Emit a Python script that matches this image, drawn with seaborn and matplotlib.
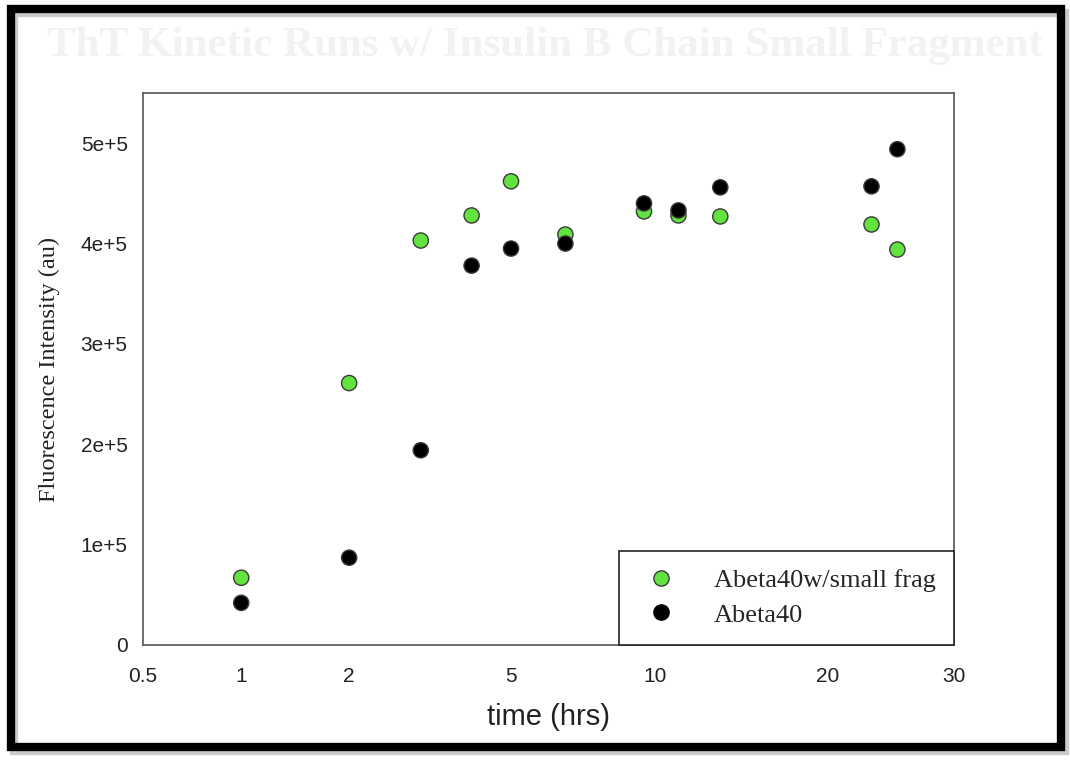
import numpy as np
import pandas as pd
import seaborn as sns
import matplotlib.pyplot as plt
from matplotlib.patches import Rectangle
from matplotlib.lines import Line2D
from matplotlib.ticker import FixedLocator, FuncFormatter

# data
time_hrs = [1, 2, 3, 4, 5, 6.5, 9.5, 11, 13, 23, 25]
small_frag = [0.67e5, 2.61e5, 4.03e5, 4.28e5, 4.62e5, 4.09e5, 4.32e5, 4.28e5, 4.27e5, 4.19e5, 3.94e5]
abeta40 = [0.42e5, 0.87e5, 1.94e5, 3.78e5, 3.95e5, 4.0e5, 4.40e5, 4.33e5, 4.56e5, 4.57e5, 4.94e5]

series_names = ['Abeta40w/small frag', 'Abeta40']
x_ticks = [0.5, 1, 2, 5, 10, 20, 30]
y_ticks = [0, 1e5, 2e5, 3e5, 4e5, 5e5]

# the original x axis is a slightly uneven log axis -> piecewise log mapping
tick_screen = np.array([142.7, 241, 349, 511, 654.7, 828.3, 954.3])
lx = np.log10(x_ticks)
s0 = (tick_screen[1] - tick_screen[0]) / (lx[1] - lx[0])
s1 = (tick_screen[-1] - tick_screen[-2]) / (lx[-1] - lx[-2])
lx_ext = np.concatenate([[lx[0] - 4], lx, [lx[-1] + 4]])
px_ext = np.concatenate([[tick_screen[0] - 4 * s0], tick_screen, [tick_screen[-1] + 4 * s1]])


def fwd(x):
    x = np.clip(np.asarray(x, dtype=float), 1e-4, None)
    return np.interp(np.log10(x), lx_ext, px_ext)


def inv(p):
    return 10 ** np.interp(np.asarray(p, dtype=float), px_ext, lx_ext)


df = pd.DataFrame({
    'time': time_hrs * 2,
    'value': small_frag + abeta40,
    'series': [series_names[0]] * len(time_hrs) + [series_names[1]] * len(time_hrs),
})

colors = {series_names[0]: '#62e33f', series_names[1]: '#000000'}
edges = {series_names[0]: '#3a3a3a', series_names[1]: '#000000'}

sns.set_style('white')
plt.rcParams['font.family'] = ['Liberation Sans', 'DejaVu Sans']

fig = plt.figure(figsize=(10.7, 7.61), dpi=100)
W, H = 1070, 761
ax = fig.add_axes([143 / W, 1 - 645 / H, (954 - 143) / W, (645 - 93) / H])

# faint title
fig.text(47 / W, 1 - 46 / H, 'ThT Kinetic Runs w/ Insulin B Chain Small Fragment',
         fontsize=31, fontweight='bold', family='Liberation Serif', color='#f2f2f2',
         ha='left', va='center')

sns.scatterplot(data=df, x='time', y='value', hue='series', hue_order=series_names,
                palette=colors, s=120, linewidth=1.0, ax=ax, zorder=3, legend=False)
for coll, name in zip(ax.collections, series_names):
    coll.set_edgecolor(edges[name])

ax.set_xscale('function', functions=(fwd, inv))
ax.set_xlim(0.5, 30)
ax.set_ylim(0, 5.5e5)
ax.xaxis.set_major_locator(FixedLocator(x_ticks))
ax.xaxis.set_minor_locator(FixedLocator([]))
ax.xaxis.set_major_formatter(FuncFormatter(lambda v, p: f'{v:g}'))
ax.yaxis.set_major_locator(FixedLocator(y_ticks))
ax.yaxis.set_major_formatter(FuncFormatter(lambda v, p: '0' if v == 0 else f'{v / 1e5:.0f}e+5'))

for sp in ax.spines.values():
    sp.set_color('#555555')
    sp.set_linewidth(1.2)
ax.tick_params(axis='both', direction='out', length=8, width=1.2, color='#555555',
               labelsize=15, labelcolor='#222222')
ax.tick_params(axis='y', pad=3)
ax.tick_params(axis='x', pad=8)

ax.set_xlabel('time (hrs)', fontsize=21, color='#222222', labelpad=12)
ax.set_ylabel('Fluorescence Intensity (au)', fontsize=17.5, family='Liberation Serif',
              color='#222222', labelpad=15)

handles = [Line2D([], [], ls='none', marker='o', markersize=11,
                  markerfacecolor=colors[n], markeredgecolor=edges[n], markeredgewidth=1.0)
           for n in series_names]
leg = ax.legend(handles, series_names, loc='lower right', bbox_to_anchor=(1.0, 0.0),
                prop={'family': 'Liberation Serif', 'size': 19}, frameon=True,
                fancybox=False, edgecolor='#222222', borderpad=0.7, labelspacing=0.4,
                handlelength=1.8, handletextpad=1.1, borderaxespad=0)
leg.get_frame().set_linewidth(1.2)
leg.get_frame().set_alpha(1)

# thick black frame with a slight shadow
fig.patches.append(Rectangle((14 / W, 1 - 751 / H), (1065 - 14) / W, (751 - 13) / H,
                             transform=fig.transFigure, fill=False, lw=6,
                             edgecolor='#999999', alpha=0.5))
fig.patches.append(Rectangle((11 / W, 1 - 747 / H), (1061 - 11) / W, (747 - 9) / H,
                             transform=fig.transFigure, fill=False, lw=6,
                             edgecolor='black'))

fig.savefig('out.png', dpi=100, facecolor='white')
